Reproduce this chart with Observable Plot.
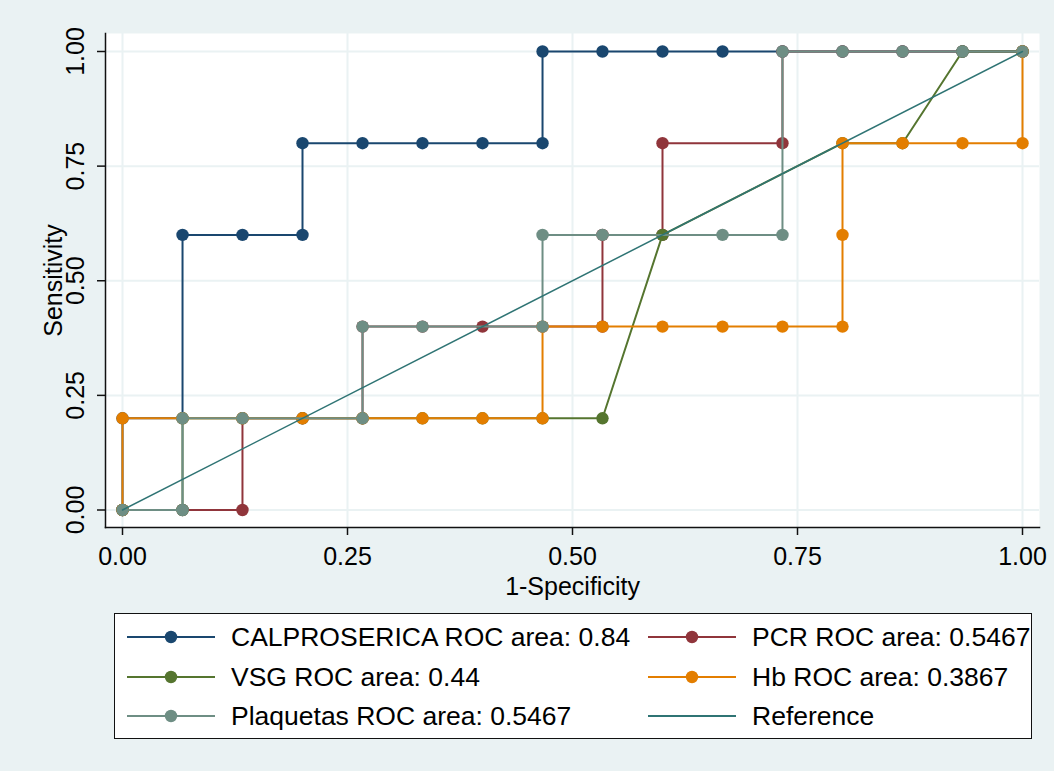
<!DOCTYPE html>
<html>
<head>
<meta charset="utf-8">
<script src="https://cdn.jsdelivr.net/npm/d3@7"></script>
<script src="https://cdn.jsdelivr.net/npm/@observablehq/plot@0.6"></script>
<style>
  body { margin: 0; background: #eaf2f3; font-family: "Liberation Sans", Arial, sans-serif; }
  #wrap { position: relative; width: 1054px; height: 771px; overflow: hidden; }
  #chart { position: absolute; left: 0; top: 0; }
  #legend { position: absolute; left: 114px; top: 613px; width: 916px; height: 124px;
            border: 1.5px solid #111; background: #fff; }
  .item { position: absolute; height: 40px; display: flex; align-items: center; }
  .item span { font-size: 26.5px; color: #000; white-space: nowrap; margin-left: 16px; }
</style>
</head>
<body>
<div id="wrap">
  <div id="chart"></div>
  <div id="legend"></div>
</div>
<script>
// ---- data ----
const xTicks = [0, 0.25, 0.5, 0.75, 1];
const yTicks = [0, 0.25, 0.5, 0.75, 1];

const calproX = [0, 0, 0.0667, 0.0667, 0.1333, 0.2, 0.2, 0.2667, 0.3333, 0.4, 0.4667, 0.4667, 0.5333, 0.6, 0.6667, 0.7333, 0.8, 0.8667, 0.9333, 1];
const calproY = [0, 0.2, 0.2, 0.6, 0.6, 0.6, 0.8, 0.8, 0.8, 0.8, 0.8, 1, 1, 1, 1, 1, 1, 1, 1, 1];

const pcrX = [0, 0.0667, 0.1333, 0.1333, 0.2, 0.2667, 0.2667, 0.3333, 0.4, 0.4667, 0.5333, 0.5333, 0.6, 0.6, 0.7333, 0.7333, 0.8, 0.8667, 0.9333, 1];
const pcrY = [0, 0, 0, 0.2, 0.2, 0.2, 0.4, 0.4, 0.4, 0.4, 0.4, 0.6, 0.6, 0.8, 0.8, 1, 1, 1, 1, 1];

const vsgX = [0, 0.0667, 0.0667, 0.1333, 0.2, 0.2667, 0.3333, 0.4, 0.4667, 0.5333, 0.6, 0.8, 0.8667, 0.9333, 1];
const vsgY = [0, 0, 0.2, 0.2, 0.2, 0.2, 0.2, 0.2, 0.2, 0.2, 0.6, 0.8, 0.8, 1, 1];

const hbX = [0, 0, 0.0667, 0.1333, 0.2, 0.2667, 0.3333, 0.4, 0.4667, 0.4667, 0.5333, 0.6, 0.6667, 0.7333, 0.8, 0.8, 0.8, 0.8667, 0.9333, 1, 1];
const hbY = [0, 0.2, 0.2, 0.2, 0.2, 0.2, 0.2, 0.2, 0.2, 0.4, 0.4, 0.4, 0.4, 0.4, 0.4, 0.6, 0.8, 0.8, 0.8, 0.8, 1];

const plaqX = [0, 0.0667, 0.0667, 0.1333, 0.2667, 0.2667, 0.3333, 0.4667, 0.4667, 0.5333, 0.6667, 0.7333, 0.7333, 0.8, 0.8667, 0.9333, 1];
const plaqY = [0, 0, 0.2, 0.2, 0.2, 0.4, 0.4, 0.4, 0.6, 0.6, 0.6, 0.6, 1, 1, 1, 1, 1];

const refX = [0, 1];
const refY = [0, 1];

const seriesNames = ["CALPROSERICA ROC area: 0.84", "PCR ROC area: 0.5467", "VSG ROC area: 0.44",
                     "Hb ROC area: 0.3867", "Plaquetas ROC area: 0.5467", "Reference"];
const seriesColors = ["#1a476f", "#90353b", "#55752f", "#e37e00", "#6e8e84", "#2f7474"];

// ---- build tables ----
const toRows = (xs, ys) => xs.map((x, i) => ({x, y: ys[i]}));
const series = [
  toRows(calproX, calproY),
  toRows(pcrX, pcrY),
  toRows(vsgX, vsgY),
  toRows(hbX, hbY),
  toRows(plaqX, plaqY)
];
const refRows = toRows(refX, refY);
const fmt = d3.format(".2f");
const font = "'Liberation Sans', Arial, sans-serif";

const seriesMarks = series.flatMap((rows, i) => [
  Plot.line(rows, {x: "x", y: "y", stroke: seriesColors[i], strokeWidth: 2}),
  Plot.dot(rows, {x: "x", y: "y", r: 6.2, fill: seriesColors[i], stroke: "none"})
]);

const chart = Plot.plot({
  width: 1054,
  height: 600,
  marginLeft: 105,
  marginRight: 15,
  marginTop: 33,
  marginBottom: 73,
  style: {background: "transparent", fontFamily: font, color: "#000"},
  x: {domain: [0, 1], insetLeft: 17, insetRight: 17},
  y: {domain: [0, 1], insetTop: 18, insetBottom: 17.5},
  marks: [
    Plot.frame({fill: "white", stroke: "none"}),
    Plot.gridX(xTicks, {stroke: "#eaf2f3", strokeOpacity: 1, strokeWidth: 2}),
    Plot.gridY(yTicks, {stroke: "#eaf2f3", strokeOpacity: 1, strokeWidth: 2}),
    Plot.axisX({ticks: xTicks, tickSize: 8, tickPadding: 12, tickFormat: fmt, label: null,
                fontSize: 25, stroke: "#111", strokeWidth: 1.5}),
    Plot.axisY({ticks: yTicks, tickSize: 8, tickRotate: -90, tickPadding: 14, tickFormat: fmt, label: null,
                fontSize: 25, stroke: "#111", strokeWidth: 1.5}),
    Plot.frame({anchor: "left", stroke: "#111", strokeWidth: 1.5}),
    Plot.frame({anchor: "bottom", stroke: "#111", strokeWidth: 1.5}),
    ...seriesMarks,
    Plot.line(refRows, {x: "x", y: "y", stroke: seriesColors[5], strokeWidth: 1.5}),
    Plot.text(["1-Specificity"], {text: d => d, frameAnchor: "bottom", dy: 50, lineAnchor: "top", fontSize: 25}),
    Plot.text(["Sensitivity"], {text: d => d, frameAnchor: "left", dx: -52, rotate: -90,
                                textAnchor: "middle", fontSize: 25})
  ]
});
document.getElementById("chart").appendChild(chart);

// ---- legend ----
const legend = document.getElementById("legend");
const colLeft = [12, 533];
const rowTop = [3, 43, 82];
seriesNames.forEach((name, i) => {
  const col = i % 2, row = Math.floor(i / 2);
  const item = document.createElement("div");
  item.className = "item";
  item.style.left = colLeft[col] + "px";
  item.style.top = rowTop[row] + "px";
  const svg = d3.create("svg").attr("width", 88).attr("height", 20);
  svg.append("line").attr("x1", 0).attr("x2", 88).attr("y1", 10).attr("y2", 10)
     .attr("stroke", seriesColors[i]).attr("stroke-width", 2);
  if (i < 5) svg.append("circle").attr("cx", 44).attr("cy", 10).attr("r", 6.2).attr("fill", seriesColors[i]);
  item.appendChild(svg.node());
  const span = document.createElement("span");
  span.textContent = name;
  item.appendChild(span);
  legend.appendChild(item);
});
</script>
</body>
</html>
